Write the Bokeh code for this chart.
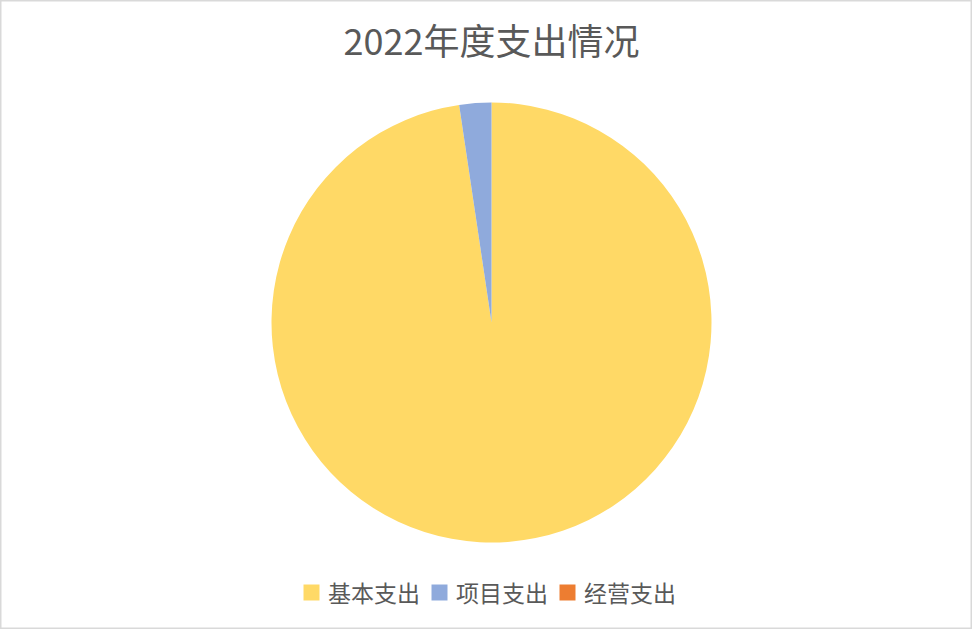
from math import pi
from bokeh.plotting import figure
from bokeh.models import ColumnDataSource, Range1d, Label, Legend, LegendItem
from bokeh.embed import file_html
from bokeh.resources import INLINE

title_text = "2022年度支出情况"
categories = ["基本支出", "项目支出", "经营支出"]
values = [97.65, 2.35, 0.0]
colors = ["#FFD966", "#8FAADC", "#ED7D31"]

W, H = 972, 629
R = 220
total = sum(values)
starts, ends, radii = [], [], []
cum = 0.0
for v in values:
    starts.append(pi / 2 - cum / total * 2 * pi)
    cum += v
    ends.append(pi / 2 - cum / total * 2 * pi)
    radii.append(R if v > 0 else 0)

src = ColumnDataSource(dict(category=categories, value=values, color=colors,
                            start=starts, end=ends, radius=radii))

p = figure(width=W, height=H, output_backend="svg", toolbar_location=None,
           x_range=Range1d(0, W), y_range=Range1d(0, H),
           x_axis_location=None, y_axis_location=None, min_border=0)
p.grid.visible = False
p.outline_line_color = "#D9D9D9"
p.outline_line_width = 2
p.background_fill_color = "white"
p.border_fill_color = "white"

r = p.wedge(x=491, y=H - 322, radius="radius", start_angle="start", end_angle="end",
            direction="clock", fill_color="color", line_color=None, source=src)

p.add_layout(Label(x=W / 2 + 5, y=H - 38, text=title_text, text_align="center",
                   text_baseline="middle", text_font_size="36px",
                   text_font="Noto Sans CJK SC", text_color="#595959"))

items = [LegendItem(label=c, renderers=[r], index=i) for i, c in enumerate(categories)]
legend = Legend(items=items, orientation="horizontal", location=(301, 20),
                glyph_width=20, glyph_height=20, label_standoff=7, spacing=9,
                padding=0, margin=0, border_line_color=None,
                background_fill_alpha=0,
                label_text_font_size="23px", label_text_font="Noto Sans CJK SC",
                label_text_color="#595959")
p.add_layout(legend, "center")

open("out.html", "w").write(file_html(p, INLINE))
